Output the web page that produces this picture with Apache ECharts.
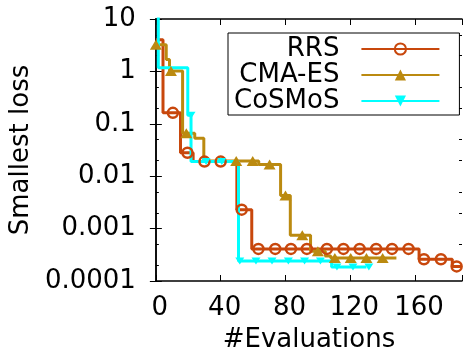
<!DOCTYPE html>
<html>
<head>
<meta charset="utf-8">
<script src="https://cdn.jsdelivr.net/npm/echarts@6/dist/echarts.min.js"></script>
<style>
  html, body { margin: 0; padding: 0; background: #fff; }
  #chart { width: 465px; height: 358px; }
</style>
</head>
<body>
<div id="chart"></div>
<script>
// x ticks / y ticks
var xTicks = [0, 40, 80, 120, 160];
var yTickLabels = ['0.0001', '0.001', '0.01', '0.1', '1', '10'];
var yMinorSteps = [2, 5];

// RRS (steps, mark = 1 where a circle is drawn)
var rrsX = [0, 4.4, 10.5, 15.2, 19.5, 23, 30, 40, 50, 53, 59.2, 63.3, 73.7, 83.4, 93.2, 105.6, 115.8, 125.8, 136, 145.8, 156, 162.5, 165.5, 176, 183, 185.7, 189];
var rrsY = [4.0, 0.162, 0.162, 0.028, 0.028, 0.019, 0.019, 0.019, 0.0023, 0.0023, 0.00041,
            0.00041, 0.00041, 0.00041, 0.00041, 0.00041, 0.00041, 0.00041, 0.00041, 0.00041, 0.00041,
            0.00026, 0.00026, 0.00026, 0.00019, 0.00019, 0.00019];
var rrsMark = [0, 0, 1, 0, 1, 0, 1, 1, 0, 1, 0, 1, 1, 1, 1, 1, 1, 1, 1, 1, 1, 0, 1, 1, 0, 1, 0];

// CMA-ES
var cmaX = [0, 6.4, 8.4, 9.3, 16.5, 18.8, 24, 29.6, 49.6, 59.8, 63.5, 70.2, 77, 80, 83, 90.4, 95.5, 100, 104.6, 108, 110.5, 120.3, 130, 140, 148.5];
var cmaY = [3.24, 1.69, 1.02, 1.02, 0.066, 0.066, 0.053, 0.0196, 0.0196, 0.0196, 0.0168, 0.0168, 0.0043, 0.0043,
            0.00075, 0.00075, 0.00037, 0.00037, 0.0003, 0.000274, 0.000274, 0.000274, 0.000274, 0.000274, 0.000274];
var cmaMark = [1, 0, 0, 1, 0, 1, 0, 0, 1, 1, 0, 1, 0, 1, 0, 1, 0, 1, 0, 0, 1, 1, 1, 1, 0];

// CoSMoS (null = gap before the last point)
var cosX = [0, 1.5, 19.7, 21.7, 21.7, 31, 40.7, 51, 51.8, 61.8, 71.7, 81.8, 91.8, 101.6, 108.5, 111.8, 121.7, 128.7, 130, 131.5];
var cosY = [30, 1.18, 0.146, 0.146, 0.019, 0.019, 0.019, 0.00024, 0.00024, 0.00024, 0.00024, 0.00024, 0.00024, 0.00024,
            0.000186, 0.000186, 0.000186, 0.000186, null, 0.000186];
var cosMark = [0, 0, 0, 1, 0, 1, 1, 0, 1, 1, 1, 1, 1, 1, 0, 1, 1, 0, 0, 1];

var FONT = 'DejaVu Sans';

function pts(xs, ys, marks) {
	var out = [];
	for (var i = 0; i < xs.length; i++) {
		if (ys[i] === null) { out.push([xs[i], '-']); continue; }
		var p = { value: [xs[i], ys[i]] };
		if (!marks[i]) p.symbol = 'none';
		out.push(p);
	}
	return out;
}

function minorTicks() {
	var v = [];
	for (var e = -4; e < 1; e++) {
		yMinorSteps.forEach(function (m) { v.push(m * Math.pow(10, e)); });
	}
	return v;
}

var chart = echarts.init(document.getElementById('chart'), null, { renderer: 'canvas' });

var logAxisBase = {
	type: 'log', logBase: 10, min: 0.0001, max: 10,
	splitLine: { show: false }
};

var option = {
	animation: false,
	backgroundColor: '#fff',
	grid: { left: 147, right: -3, top: 19, bottom: 73 },
	legend: {
		orient: 'vertical', left: 228, top: 33, align: 'right',
		itemWidth: 78, itemHeight: 14, itemGap: 0,
		borderColor: '#000', borderWidth: 1, borderRadius: 0,
		padding: [3, 19, 1, 6],
		textStyle: { fontFamily: FONT, fontSize: 26, color: '#000', lineHeight: 24.5, padding: [0, 17, 0, 0] },
		data: ['RRS', 'CMA-ES', 'CoSMoS']
	},
	xAxis: [{
		type: 'value', min: 0, max: 189, interval: 40,
		name: '#Evaluations', nameLocation: 'middle', nameGap: 46,
		nameTextStyle: { fontFamily: FONT, fontSize: 26, color: '#000' },
		axisLine: { lineStyle: { color: '#000', width: 1.5 } },
		axisTick: { inside: true, length: 6, lineStyle: { color: '#000' } },
		axisLabel: {
			fontFamily: FONT, fontSize: 26, color: '#000', margin: 14, padding: [0, 0, 0, 8],
			formatter: function (v) { return xTicks.indexOf(v) >= 0 ? String(v) : ''; }
		},
		splitLine: { show: false }
	}, {
		type: 'value', min: 0, max: 189, interval: 40, position: 'top',
		axisLine: { lineStyle: { color: '#000', width: 1.5 } },
		axisTick: { inside: true, length: 6, lineStyle: { color: '#000' } },
		axisLabel: { show: false },
		splitLine: { show: false }
	}],
	yAxis: [
		Object.assign({}, logAxisBase, {
			name: 'Smallest loss', nameLocation: 'middle', nameGap: 112, nameRotate: 90,
			nameTextStyle: { fontFamily: FONT, fontSize: 26, color: '#000' },
			axisLine: { show: true, lineStyle: { color: '#000', width: 1.5 } },
			axisTick: { inside: true, length: 6, lineStyle: { color: '#000' } },
			axisLabel: {
				fontFamily: FONT, fontSize: 26, color: '#000', margin: 20,
				formatter: function (v) { return yTickLabels[Math.round(Math.log10(v)) + 4] || ''; }
			}
		}),
		Object.assign({}, logAxisBase, {
			position: 'right',
			axisLine: { show: true, lineStyle: { color: '#000', width: 1.5 } },
			axisTick: { inside: true, length: 6, lineStyle: { color: '#000' } },
			axisLabel: { show: false }
		}),
		Object.assign({}, logAxisBase, {
			position: 'left', axisLine: { show: false },
			axisTick: { inside: true, length: 3, customValues: minorTicks(), lineStyle: { color: '#000' } },
			axisLabel: { show: false }
		}),
		Object.assign({}, logAxisBase, {
			position: 'right', axisLine: { show: false },
			axisTick: { inside: true, length: 3, customValues: minorTicks(), lineStyle: { color: '#000' } },
			axisLabel: { show: false }
		})
	],
	series: [{
		name: 'RRS', type: 'line', step: 'end',
		data: pts(rrsX, rrsY, rrsMark),
		symbol: 'circle', symbolSize: 10,
		lineStyle: { color: '#c8470c', width: 3 },
		itemStyle: { color: 'rgba(255,255,255,0)', borderColor: '#c8470c', borderWidth: 2.5 }
	}, {
		name: 'CMA-ES', type: 'line', step: 'end',
		data: pts(cmaX, cmaY, cmaMark),
		symbol: 'triangle', symbolSize: [12, 10],
		lineStyle: { color: '#bb8a10', width: 3 },
		itemStyle: { color: '#bb8a10' }
	}, {
		name: 'CoSMoS', type: 'line', step: 'end',
		data: pts(cosX, cosY, cosMark),
		symbol: 'triangle', symbolRotate: 180, symbolSize: [9, 7],
		lineStyle: { color: '#00ffff', width: 3 },
		itemStyle: { color: '#00ffff' }
	}]
};

chart.setOption(option);
</script>
</body>
</html>
